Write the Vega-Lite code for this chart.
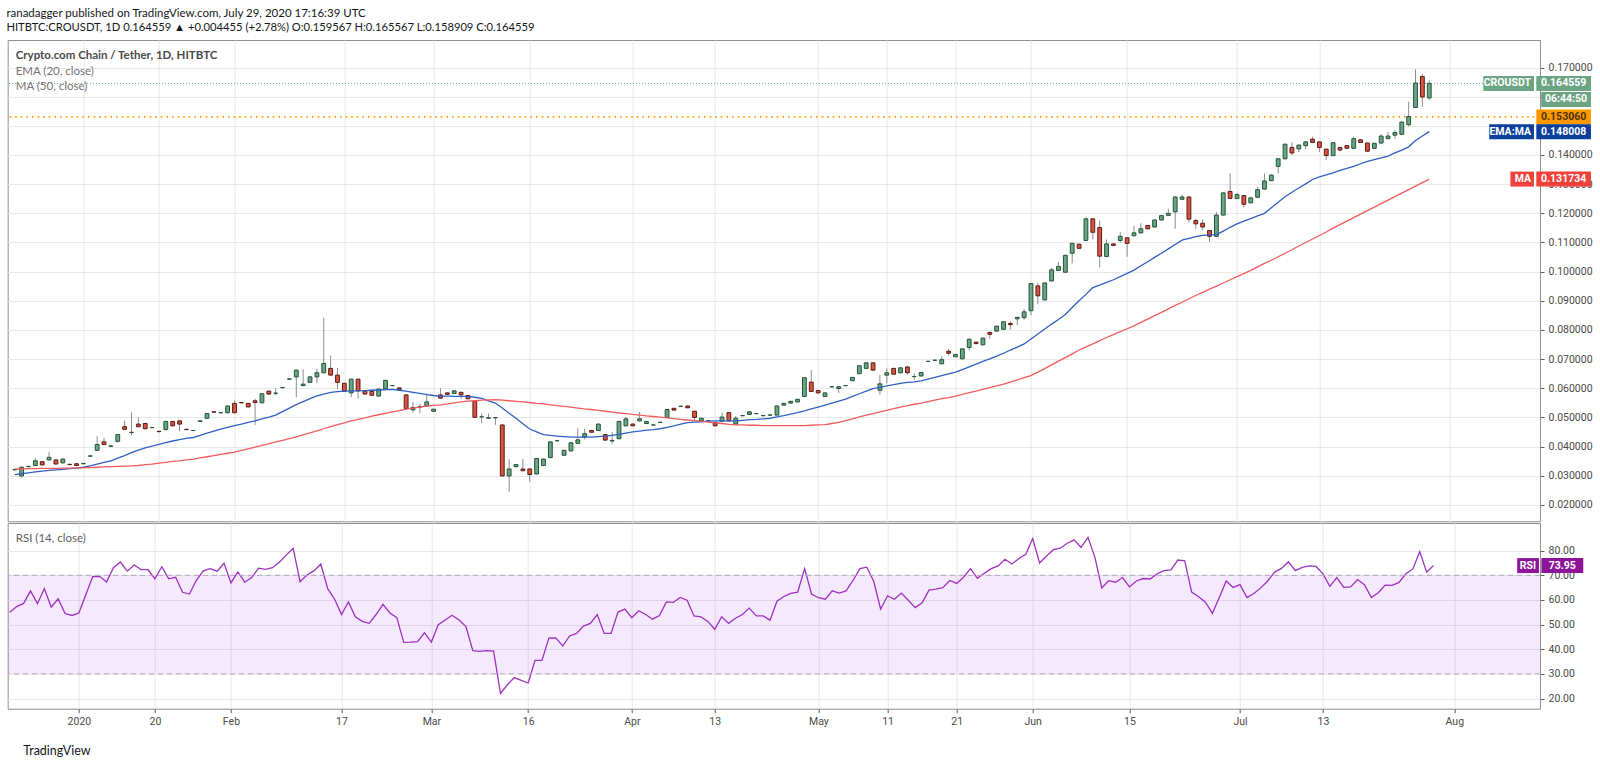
{
  "$schema": "https://vega.github.io/schema/vega-lite/v6.json",
  "padding": {"left": 5.7, "top": 7, "right": 0, "bottom": 0},
  "background": "white",
  "title": {
    "text": "ranadagger published on TradingView.com, July 29, 2020 17:16:39 UTC",
    "subtitle": "HITBTC:CROUSDT, 1D  0.164559 ▲ +0.004455 (+2.78%) O:0.159567 H:0.165567 L:0.158909 C:0.164559",
    "anchor": "start", "offset": 6,
    "font": "Lato", "fontSize": 11.5, "fontWeight": "normal", "color": "#131722",
    "subtitleFont": "Lato", "subtitleFontSize": 11.2, "subtitleColor": "#131722", "subtitlePadding": 3
  },
  "spacing": 0,
  "datasets": {
    "tags": [
      {"name": "CROUSDT", "value": 0.164559, "timer": "06:44:50"},
      {"name": "LEVEL", "value": 0.15306},
      {"name": "EMA:MA", "value": 0.148008},
      {"name": "MA", "value": 0.131734},
      {"name": "RSI", "value": 73.95}
    ],
    "bars": [
      {"i":0,"o":0.0320,"h":0.0323,"l":0.0318,"c":0.0321,"ema":0.0304,"ma":0.0323,"rsi":55.0},
      {"i":1,"o":0.0299,"h":0.0331,"l":0.0293,"c":0.0329,"ema":0.0307,"ma":0.0323,"rsi":57.3},
      {"i":2,"o":0.0331,"h":0.0334,"l":0.0329,"c":0.0332,"ema":0.0310,"ma":0.0324,"rsi":58.6},
      {"i":3,"o":0.0335,"h":0.0360,"l":0.0333,"c":0.0351,"ema":0.0313,"ma":0.0324,"rsi":63.7},
      {"i":4,"o":0.0348,"h":0.0350,"l":0.0334,"c":0.0337,"ema":0.0316,"ma":0.0325,"rsi":58.5},
      {"i":5,"o":0.0354,"h":0.0382,"l":0.0352,"c":0.0363,"ema":0.0318,"ma":0.0325,"rsi":64.6},
      {"i":6,"o":0.0354,"h":0.0357,"l":0.0338,"c":0.0340,"ema":0.0320,"ma":0.0325,"rsi":57.1},
      {"i":7,"o":0.0344,"h":0.0359,"l":0.0341,"c":0.0357,"ema":0.0322,"ma":0.0326,"rsi":60.5},
      {"i":8,"o":0.0339,"h":0.0341,"l":0.0336,"c":0.0338,"ema":0.0324,"ma":0.0326,"rsi":54.5},
      {"i":9,"o":0.0341,"h":0.0343,"l":0.0333,"c":0.0335,"ema":0.0326,"ma":0.0327,"rsi":53.7},
      {"i":10,"o":0.0341,"h":0.0344,"l":0.0339,"c":0.0342,"ema":0.0329,"ma":0.0327,"rsi":54.7},
      {"i":11,"o":0.0367,"h":0.0370,"l":0.0365,"c":0.0368,"ema":0.0334,"ma":0.0328,"rsi":62.1},
      {"i":12,"o":0.0387,"h":0.0435,"l":0.0385,"c":0.0407,"ema":0.0340,"ma":0.0329,"rsi":69.5},
      {"i":13,"o":0.0416,"h":0.0430,"l":0.0404,"c":0.0407,"ema":0.0346,"ma":0.0330,"rsi":69.6},
      {"i":14,"o":0.0401,"h":0.0404,"l":0.0399,"c":0.0402,"ema":0.0351,"ma":0.0331,"rsi":67.3},
      {"i":15,"o":0.0418,"h":0.0443,"l":0.0413,"c":0.0441,"ema":0.0360,"ma":0.0332,"rsi":73.1},
      {"i":16,"o":0.0468,"h":0.0489,"l":0.0457,"c":0.0459,"ema":0.0369,"ma":0.0333,"rsi":75.4},
      {"i":17,"o":0.0448,"h":0.0517,"l":0.0439,"c":0.0449,"ema":0.0379,"ma":0.0334,"rsi":71.7},
      {"i":18,"o":0.0477,"h":0.0500,"l":0.0466,"c":0.0468,"ema":0.0388,"ma":0.0335,"rsi":74.2},
      {"i":19,"o":0.0479,"h":0.0481,"l":0.0459,"c":0.0461,"ema":0.0395,"ma":0.0338,"rsi":72.3},
      {"i":20,"o":0.0465,"h":0.0467,"l":0.0463,"c":0.0465,"ema":0.0401,"ma":0.0340,"rsi":72.3},
      {"i":21,"o":0.0452,"h":0.0454,"l":0.0449,"c":0.0451,"ema":0.0407,"ma":0.0343,"rsi":68.6},
      {"i":22,"o":0.0458,"h":0.0488,"l":0.0456,"c":0.0486,"ema":0.0413,"ma":0.0346,"rsi":73.5},
      {"i":23,"o":0.0486,"h":0.0488,"l":0.0469,"c":0.0471,"ema":0.0419,"ma":0.0349,"rsi":68.6},
      {"i":24,"o":0.0488,"h":0.0490,"l":0.0452,"c":0.0477,"ema":0.0424,"ma":0.0351,"rsi":69.2},
      {"i":25,"o":0.0459,"h":0.0461,"l":0.0456,"c":0.0458,"ema":0.0428,"ma":0.0354,"rsi":63.1},
      {"i":26,"o":0.0455,"h":0.0457,"l":0.0453,"c":0.0455,"ema":0.0431,"ma":0.0357,"rsi":62.4},
      {"i":27,"o":0.0486,"h":0.0490,"l":0.0484,"c":0.0488,"ema":0.0438,"ma":0.0361,"rsi":68.0},
      {"i":28,"o":0.0497,"h":0.0515,"l":0.0495,"c":0.0513,"ema":0.0446,"ma":0.0365,"rsi":71.8},
      {"i":29,"o":0.0519,"h":0.0521,"l":0.0516,"c":0.0518,"ema":0.0453,"ma":0.0369,"rsi":72.7},
      {"i":30,"o":0.0516,"h":0.0518,"l":0.0514,"c":0.0516,"ema":0.0460,"ma":0.0373,"rsi":71.7},
      {"i":31,"o":0.0516,"h":0.0541,"l":0.0514,"c":0.0539,"ema":0.0466,"ma":0.0377,"rsi":74.9},
      {"i":32,"o":0.0548,"h":0.0558,"l":0.0514,"c":0.0516,"ema":0.0472,"ma":0.0381,"rsi":66.9},
      {"i":33,"o":0.0551,"h":0.0553,"l":0.0548,"c":0.0550,"ema":0.0477,"ma":0.0387,"rsi":71.4},
      {"i":34,"o":0.0548,"h":0.0550,"l":0.0534,"c":0.0536,"ema":0.0483,"ma":0.0392,"rsi":67.2},
      {"i":35,"o":0.0557,"h":0.0564,"l":0.0474,"c":0.0551,"ema":0.0488,"ma":0.0398,"rsi":69.1},
      {"i":36,"o":0.0550,"h":0.0583,"l":0.0548,"c":0.0581,"ema":0.0495,"ma":0.0404,"rsi":72.9},
      {"i":37,"o":0.0590,"h":0.0592,"l":0.0578,"c":0.0580,"ema":0.0501,"ma":0.0410,"rsi":72.4},
      {"i":38,"o":0.0583,"h":0.0600,"l":0.0575,"c":0.0583,"ema":0.0508,"ma":0.0416,"rsi":73.1},
      {"i":39,"o":0.0602,"h":0.0604,"l":0.0600,"c":0.0602,"ema":0.0520,"ma":0.0421,"rsi":75.3},
      {"i":40,"o":0.0631,"h":0.0634,"l":0.0629,"c":0.0632,"ema":0.0532,"ma":0.0427,"rsi":78.2},
      {"i":41,"o":0.0639,"h":0.0664,"l":0.0569,"c":0.0662,"ema":0.0544,"ma":0.0433,"rsi":81.0},
      {"i":42,"o":0.0609,"h":0.0665,"l":0.0607,"c":0.0614,"ema":0.0554,"ma":0.0440,"rsi":67.4},
      {"i":43,"o":0.0620,"h":0.0641,"l":0.0618,"c":0.0639,"ema":0.0564,"ma":0.0447,"rsi":70.1},
      {"i":44,"o":0.0639,"h":0.0667,"l":0.0617,"c":0.0653,"ema":0.0574,"ma":0.0454,"rsi":71.8},
      {"i":45,"o":0.0653,"h":0.0842,"l":0.0651,"c":0.0685,"ema":0.0580,"ma":0.0461,"rsi":74.6},
      {"i":46,"o":0.0668,"h":0.0712,"l":0.0643,"c":0.0645,"ema":0.0586,"ma":0.0468,"rsi":64.6},
      {"i":47,"o":0.0645,"h":0.0670,"l":0.0598,"c":0.0620,"ema":0.0588,"ma":0.0475,"rsi":60.3},
      {"i":48,"o":0.0617,"h":0.0619,"l":0.0588,"c":0.0590,"ema":0.0590,"ma":0.0481,"rsi":54.1},
      {"i":49,"o":0.0584,"h":0.0633,"l":0.0570,"c":0.0631,"ema":0.0591,"ma":0.0488,"rsi":59.2},
      {"i":50,"o":0.0631,"h":0.0633,"l":0.0565,"c":0.0591,"ema":0.0591,"ma":0.0493,"rsi":53.2},
      {"i":51,"o":0.0590,"h":0.0592,"l":0.0578,"c":0.0580,"ema":0.0592,"ma":0.0498,"rsi":51.3},
      {"i":52,"o":0.0589,"h":0.0591,"l":0.0574,"c":0.0576,"ema":0.0593,"ma":0.0504,"rsi":50.5},
      {"i":53,"o":0.0573,"h":0.0599,"l":0.0571,"c":0.0597,"ema":0.0594,"ma":0.0509,"rsi":54.1},
      {"i":54,"o":0.0597,"h":0.0629,"l":0.0595,"c":0.0627,"ema":0.0595,"ma":0.0514,"rsi":58.2},
      {"i":55,"o":0.0609,"h":0.0611,"l":0.0607,"c":0.0609,"ema":0.0596,"ma":0.0519,"rsi":54.7},
      {"i":56,"o":0.0601,"h":0.0603,"l":0.0594,"c":0.0596,"ema":0.0593,"ma":0.0523,"rsi":52.8},
      {"i":57,"o":0.0577,"h":0.0579,"l":0.0528,"c":0.0530,"ema":0.0590,"ma":0.0528,"rsi":42.8},
      {"i":58,"o":0.0526,"h":0.0553,"l":0.0517,"c":0.0534,"ema":0.0586,"ma":0.0532,"rsi":42.9},
      {"i":59,"o":0.0536,"h":0.0547,"l":0.0514,"c":0.0536,"ema":0.0582,"ma":0.0535,"rsi":43.1},
      {"i":60,"o":0.0539,"h":0.0581,"l":0.0537,"c":0.0553,"ema":0.0578,"ma":0.0539,"rsi":46.7},
      {"i":61,"o":0.0521,"h":0.0530,"l":0.0519,"c":0.0528,"ema":0.0575,"ma":0.0541,"rsi":42.9},
      {"i":62,"o":0.0577,"h":0.0600,"l":0.0564,"c":0.0566,"ema":0.0573,"ma":0.0543,"rsi":50.0},
      {"i":63,"o":0.0584,"h":0.0586,"l":0.0577,"c":0.0579,"ema":0.0573,"ma":0.0546,"rsi":51.9},
      {"i":64,"o":0.0582,"h":0.0593,"l":0.0580,"c":0.0591,"ema":0.0572,"ma":0.0550,"rsi":53.8},
      {"i":65,"o":0.0586,"h":0.0588,"l":0.0564,"c":0.0577,"ema":0.0572,"ma":0.0553,"rsi":51.9},
      {"i":66,"o":0.0575,"h":0.0577,"l":0.0562,"c":0.0564,"ema":0.0572,"ma":0.0556,"rsi":49.2},
      {"i":67,"o":0.0556,"h":0.0558,"l":0.0498,"c":0.0500,"ema":0.0569,"ma":0.0557,"rsi":39.4},
      {"i":68,"o":0.0502,"h":0.0513,"l":0.0480,"c":0.0502,"ema":0.0565,"ma":0.0559,"rsi":39.1},
      {"i":69,"o":0.0497,"h":0.0513,"l":0.0495,"c":0.0499,"ema":0.0557,"ma":0.0560,"rsi":39.4},
      {"i":70,"o":0.0499,"h":0.0501,"l":0.0474,"c":0.0499,"ema":0.0549,"ma":0.0561,"rsi":39.2},
      {"i":71,"o":0.0474,"h":0.0476,"l":0.0297,"c":0.0299,"ema":0.0532,"ma":0.0559,"rsi":22.1},
      {"i":72,"o":0.0299,"h":0.0357,"l":0.0245,"c":0.0323,"ema":0.0514,"ma":0.0557,"rsi":25.6},
      {"i":73,"o":0.0331,"h":0.0340,"l":0.0329,"c":0.0338,"ema":0.0497,"ma":0.0555,"rsi":28.5},
      {"i":74,"o":0.0323,"h":0.0357,"l":0.0315,"c":0.0317,"ema":0.0478,"ma":0.0553,"rsi":27.4},
      {"i":75,"o":0.0323,"h":0.0325,"l":0.0279,"c":0.0304,"ema":0.0460,"ma":0.0551,"rsi":26.3},
      {"i":76,"o":0.0306,"h":0.0361,"l":0.0304,"c":0.0359,"ema":0.0450,"ma":0.0548,"rsi":35.5},
      {"i":77,"o":0.0335,"h":0.0359,"l":0.0333,"c":0.0357,"ema":0.0441,"ma":0.0546,"rsi":35.5},
      {"i":78,"o":0.0362,"h":0.0418,"l":0.0360,"c":0.0416,"ema":0.0438,"ma":0.0543,"rsi":44.5},
      {"i":79,"o":0.0420,"h":0.0422,"l":0.0418,"c":0.0420,"ema":0.0436,"ma":0.0540,"rsi":44.6},
      {"i":80,"o":0.0370,"h":0.0389,"l":0.0368,"c":0.0387,"ema":0.0434,"ma":0.0538,"rsi":41.3},
      {"i":81,"o":0.0385,"h":0.0415,"l":0.0383,"c":0.0413,"ema":0.0432,"ma":0.0535,"rsi":45.4},
      {"i":82,"o":0.0411,"h":0.0463,"l":0.0409,"c":0.0423,"ema":0.0432,"ma":0.0532,"rsi":46.4},
      {"i":83,"o":0.0433,"h":0.0461,"l":0.0424,"c":0.0444,"ema":0.0432,"ma":0.0529,"rsi":49.4},
      {"i":84,"o":0.0455,"h":0.0457,"l":0.0447,"c":0.0449,"ema":0.0432,"ma":0.0527,"rsi":50.5},
      {"i":85,"o":0.0455,"h":0.0479,"l":0.0453,"c":0.0477,"ema":0.0434,"ma":0.0524,"rsi":54.1},
      {"i":86,"o":0.0441,"h":0.0443,"l":0.0420,"c":0.0422,"ema":0.0436,"ma":0.0521,"rsi":46.4},
      {"i":87,"o":0.0419,"h":0.0449,"l":0.0410,"c":0.0421,"ema":0.0438,"ma":0.0518,"rsi":46.4},
      {"i":88,"o":0.0427,"h":0.0488,"l":0.0425,"c":0.0486,"ema":0.0442,"ma":0.0515,"rsi":55.1},
      {"i":89,"o":0.0471,"h":0.0501,"l":0.0469,"c":0.0495,"ema":0.0446,"ma":0.0513,"rsi":56.3},
      {"i":90,"o":0.0477,"h":0.0479,"l":0.0469,"c":0.0471,"ema":0.0450,"ma":0.0510,"rsi":52.8},
      {"i":91,"o":0.0488,"h":0.0519,"l":0.0486,"c":0.0495,"ema":0.0453,"ma":0.0508,"rsi":55.6},
      {"i":92,"o":0.0479,"h":0.0488,"l":0.0477,"c":0.0486,"ema":0.0456,"ma":0.0505,"rsi":54.1},
      {"i":93,"o":0.0474,"h":0.0476,"l":0.0472,"c":0.0474,"ema":0.0458,"ma":0.0503,"rsi":52.2},
      {"i":94,"o":0.0483,"h":0.0485,"l":0.0481,"c":0.0483,"ema":0.0461,"ma":0.0501,"rsi":53.7},
      {"i":95,"o":0.0500,"h":0.0529,"l":0.0498,"c":0.0527,"ema":0.0466,"ma":0.0498,"rsi":59.2},
      {"i":96,"o":0.0531,"h":0.0533,"l":0.0523,"c":0.0525,"ema":0.0471,"ma":0.0496,"rsi":59.0},
      {"i":97,"o":0.0538,"h":0.0540,"l":0.0536,"c":0.0538,"ema":0.0477,"ma":0.0493,"rsi":61.0},
      {"i":98,"o":0.0539,"h":0.0541,"l":0.0531,"c":0.0533,"ema":0.0482,"ma":0.0491,"rsi":59.9},
      {"i":99,"o":0.0521,"h":0.0523,"l":0.0486,"c":0.0500,"ema":0.0484,"ma":0.0489,"rsi":53.5},
      {"i":100,"o":0.0488,"h":0.0499,"l":0.0486,"c":0.0497,"ema":0.0485,"ma":0.0486,"rsi":53.1},
      {"i":101,"o":0.0488,"h":0.0490,"l":0.0486,"c":0.0488,"ema":0.0487,"ma":0.0484,"rsi":51.3},
      {"i":102,"o":0.0482,"h":0.0484,"l":0.0469,"c":0.0471,"ema":0.0488,"ma":0.0481,"rsi":48.1},
      {"i":103,"o":0.0487,"h":0.0517,"l":0.0485,"c":0.0501,"ema":0.0488,"ma":0.0479,"rsi":53.2},
      {"i":104,"o":0.0516,"h":0.0518,"l":0.0486,"c":0.0488,"ema":0.0488,"ma":0.0476,"rsi":50.5},
      {"i":105,"o":0.0477,"h":0.0505,"l":0.0475,"c":0.0497,"ema":0.0488,"ma":0.0474,"rsi":52.6},
      {"i":106,"o":0.0506,"h":0.0508,"l":0.0504,"c":0.0506,"ema":0.0490,"ma":0.0474,"rsi":54.1},
      {"i":107,"o":0.0510,"h":0.0521,"l":0.0508,"c":0.0519,"ema":0.0492,"ma":0.0473,"rsi":56.7},
      {"i":108,"o":0.0513,"h":0.0515,"l":0.0511,"c":0.0513,"ema":0.0493,"ma":0.0473,"rsi":53.5},
      {"i":109,"o":0.0506,"h":0.0508,"l":0.0504,"c":0.0506,"ema":0.0495,"ma":0.0472,"rsi":53.5},
      {"i":110,"o":0.0508,"h":0.0510,"l":0.0506,"c":0.0508,"ema":0.0497,"ma":0.0472,"rsi":51.8},
      {"i":111,"o":0.0508,"h":0.0541,"l":0.0506,"c":0.0539,"ema":0.0502,"ma":0.0472,"rsi":59.5},
      {"i":112,"o":0.0542,"h":0.0550,"l":0.0540,"c":0.0548,"ema":0.0506,"ma":0.0472,"rsi":61.4},
      {"i":113,"o":0.0549,"h":0.0557,"l":0.0547,"c":0.0555,"ema":0.0511,"ma":0.0472,"rsi":62.7},
      {"i":114,"o":0.0553,"h":0.0564,"l":0.0551,"c":0.0562,"ema":0.0516,"ma":0.0472,"rsi":63.2},
      {"i":115,"o":0.0572,"h":0.0638,"l":0.0570,"c":0.0636,"ema":0.0522,"ma":0.0472,"rsi":72.7},
      {"i":116,"o":0.0621,"h":0.0662,"l":0.0587,"c":0.0589,"ema":0.0529,"ma":0.0473,"rsi":62.4},
      {"i":117,"o":0.0592,"h":0.0594,"l":0.0582,"c":0.0584,"ema":0.0535,"ma":0.0474,"rsi":60.9},
      {"i":118,"o":0.0572,"h":0.0586,"l":0.0570,"c":0.0584,"ema":0.0542,"ma":0.0475,"rsi":60.3},
      {"i":119,"o":0.0605,"h":0.0607,"l":0.0603,"c":0.0605,"ema":0.0549,"ma":0.0479,"rsi":63.7},
      {"i":120,"o":0.0599,"h":0.0607,"l":0.0584,"c":0.0605,"ema":0.0556,"ma":0.0483,"rsi":62.8},
      {"i":121,"o":0.0609,"h":0.0611,"l":0.0607,"c":0.0609,"ema":0.0563,"ma":0.0489,"rsi":63.7},
      {"i":122,"o":0.0626,"h":0.0639,"l":0.0624,"c":0.0637,"ema":0.0572,"ma":0.0495,"rsi":67.9},
      {"i":123,"o":0.0650,"h":0.0679,"l":0.0648,"c":0.0677,"ema":0.0581,"ma":0.0502,"rsi":72.7},
      {"i":124,"o":0.0668,"h":0.0689,"l":0.0666,"c":0.0687,"ema":0.0590,"ma":0.0508,"rsi":73.3},
      {"i":125,"o":0.0687,"h":0.0689,"l":0.0660,"c":0.0662,"ema":0.0599,"ma":0.0513,"rsi":67.6},
      {"i":126,"o":0.0593,"h":0.0645,"l":0.0578,"c":0.0615,"ema":0.0603,"ma":0.0519,"rsi":56.3},
      {"i":127,"o":0.0645,"h":0.0668,"l":0.0617,"c":0.0653,"ema":0.0608,"ma":0.0524,"rsi":61.7},
      {"i":128,"o":0.0668,"h":0.0670,"l":0.0646,"c":0.0648,"ema":0.0612,"ma":0.0530,"rsi":60.3},
      {"i":129,"o":0.0653,"h":0.0672,"l":0.0651,"c":0.0670,"ema":0.0617,"ma":0.0535,"rsi":62.8},
      {"i":130,"o":0.0673,"h":0.0675,"l":0.0646,"c":0.0653,"ema":0.0620,"ma":0.0540,"rsi":59.9},
      {"i":131,"o":0.0640,"h":0.0651,"l":0.0629,"c":0.0640,"ema":0.0622,"ma":0.0545,"rsi":56.9},
      {"i":132,"o":0.0642,"h":0.0656,"l":0.0640,"c":0.0654,"ema":0.0625,"ma":0.0549,"rsi":58.8},
      {"i":133,"o":0.0692,"h":0.0694,"l":0.0690,"c":0.0692,"ema":0.0631,"ma":0.0554,"rsi":64.0},
      {"i":134,"o":0.0696,"h":0.0698,"l":0.0694,"c":0.0696,"ema":0.0637,"ma":0.0559,"rsi":64.4},
      {"i":135,"o":0.0684,"h":0.0710,"l":0.0682,"c":0.0698,"ema":0.0643,"ma":0.0564,"rsi":65.0},
      {"i":136,"o":0.0727,"h":0.0735,"l":0.0712,"c":0.0720,"ema":0.0649,"ma":0.0568,"rsi":67.9},
      {"i":137,"o":0.0708,"h":0.0718,"l":0.0706,"c":0.0716,"ema":0.0655,"ma":0.0573,"rsi":66.7},
      {"i":138,"o":0.0701,"h":0.0737,"l":0.0699,"c":0.0735,"ema":0.0664,"ma":0.0579,"rsi":69.2},
      {"i":139,"o":0.0740,"h":0.0770,"l":0.0729,"c":0.0768,"ema":0.0673,"ma":0.0585,"rsi":72.7},
      {"i":140,"o":0.0758,"h":0.0760,"l":0.0751,"c":0.0753,"ema":0.0683,"ma":0.0590,"rsi":68.8},
      {"i":141,"o":0.0749,"h":0.0774,"l":0.0747,"c":0.0772,"ema":0.0692,"ma":0.0596,"rsi":70.8},
      {"i":142,"o":0.0791,"h":0.0796,"l":0.0770,"c":0.0785,"ema":0.0701,"ma":0.0602,"rsi":72.7},
      {"i":143,"o":0.0796,"h":0.0815,"l":0.0794,"c":0.0813,"ema":0.0710,"ma":0.0608,"rsi":73.8},
      {"i":144,"o":0.0802,"h":0.0830,"l":0.0800,"c":0.0828,"ema":0.0720,"ma":0.0614,"rsi":76.5},
      {"i":145,"o":0.0822,"h":0.0830,"l":0.0802,"c":0.0818,"ema":0.0731,"ma":0.0621,"rsi":74.6},
      {"i":146,"o":0.0838,"h":0.0845,"l":0.0816,"c":0.0843,"ema":0.0741,"ma":0.0629,"rsi":76.8},
      {"i":147,"o":0.0842,"h":0.0871,"l":0.0835,"c":0.0862,"ema":0.0752,"ma":0.0636,"rsi":78.5},
      {"i":148,"o":0.0866,"h":0.0961,"l":0.0850,"c":0.0959,"ema":0.0769,"ma":0.0643,"rsi":84.9},
      {"i":149,"o":0.0951,"h":0.0962,"l":0.0888,"c":0.0917,"ema":0.0786,"ma":0.0655,"rsi":75.0},
      {"i":150,"o":0.0903,"h":0.0963,"l":0.0901,"c":0.0961,"ema":0.0803,"ma":0.0667,"rsi":77.8},
      {"i":151,"o":0.0968,"h":0.1013,"l":0.0966,"c":0.1006,"ema":0.0820,"ma":0.0680,"rsi":80.4},
      {"i":152,"o":0.1004,"h":0.1033,"l":0.1002,"c":0.1018,"ema":0.0836,"ma":0.0693,"rsi":81.0},
      {"i":153,"o":0.0998,"h":0.1058,"l":0.0996,"c":0.1056,"ema":0.0853,"ma":0.0705,"rsi":83.0},
      {"i":154,"o":0.1063,"h":0.1099,"l":0.1028,"c":0.1097,"ema":0.0877,"ma":0.0718,"rsi":84.4},
      {"i":155,"o":0.1094,"h":0.1096,"l":0.1078,"c":0.1080,"ema":0.0900,"ma":0.0731,"rsi":81.3},
      {"i":156,"o":0.1107,"h":0.1186,"l":0.1105,"c":0.1181,"ema":0.0922,"ma":0.0742,"rsi":85.4},
      {"i":157,"o":0.1181,"h":0.1183,"l":0.1110,"c":0.1135,"ema":0.0945,"ma":0.0752,"rsi":77.3},
      {"i":158,"o":0.1151,"h":0.1175,"l":0.1015,"c":0.1053,"ema":0.0954,"ma":0.0763,"rsi":64.9},
      {"i":159,"o":0.1052,"h":0.1110,"l":0.1050,"c":0.1095,"ema":0.0963,"ma":0.0774,"rsi":67.8},
      {"i":160,"o":0.1095,"h":0.1097,"l":0.1088,"c":0.1090,"ema":0.0972,"ma":0.0784,"rsi":67.2},
      {"i":161,"o":0.1107,"h":0.1136,"l":0.1099,"c":0.1121,"ema":0.0983,"ma":0.0794,"rsi":69.1},
      {"i":162,"o":0.1116,"h":0.1118,"l":0.1051,"c":0.1097,"ema":0.0994,"ma":0.0804,"rsi":65.3},
      {"i":163,"o":0.1123,"h":0.1158,"l":0.1121,"c":0.1133,"ema":0.1005,"ma":0.0814,"rsi":67.7},
      {"i":164,"o":0.1133,"h":0.1166,"l":0.1131,"c":0.1147,"ema":0.1020,"ma":0.0826,"rsi":68.7},
      {"i":165,"o":0.1158,"h":0.1160,"l":0.1145,"c":0.1147,"ema":0.1034,"ma":0.0837,"rsi":68.5},
      {"i":166,"o":0.1153,"h":0.1179,"l":0.1151,"c":0.1177,"ema":0.1049,"ma":0.0849,"rsi":70.6},
      {"i":167,"o":0.1177,"h":0.1194,"l":0.1175,"c":0.1192,"ema":0.1063,"ma":0.0860,"rsi":71.9},
      {"i":168,"o":0.1193,"h":0.1216,"l":0.1191,"c":0.1200,"ema":0.1078,"ma":0.0872,"rsi":72.2},
      {"i":169,"o":0.1205,"h":0.1258,"l":0.1147,"c":0.1256,"ema":0.1093,"ma":0.0884,"rsi":76.2},
      {"i":170,"o":0.1248,"h":0.1264,"l":0.1246,"c":0.1256,"ema":0.1108,"ma":0.0895,"rsi":75.9},
      {"i":171,"o":0.1256,"h":0.1258,"l":0.1170,"c":0.1180,"ema":0.1114,"ma":0.0907,"rsi":63.2},
      {"i":172,"o":0.1175,"h":0.1181,"l":0.1147,"c":0.1164,"ema":0.1120,"ma":0.0918,"rsi":61.3},
      {"i":173,"o":0.1166,"h":0.1180,"l":0.1141,"c":0.1153,"ema":0.1124,"ma":0.0929,"rsi":59.1},
      {"i":174,"o":0.1141,"h":0.1143,"l":0.1102,"c":0.1121,"ema":0.1126,"ma":0.0940,"rsi":54.6},
      {"i":175,"o":0.1121,"h":0.1205,"l":0.1119,"c":0.1194,"ema":0.1127,"ma":0.0950,"rsi":61.0},
      {"i":176,"o":0.1194,"h":0.1272,"l":0.1192,"c":0.1270,"ema":0.1139,"ma":0.0961,"rsi":67.7},
      {"i":177,"o":0.1275,"h":0.1337,"l":0.1249,"c":0.1251,"ema":0.1152,"ma":0.0972,"rsi":65.1},
      {"i":178,"o":0.1251,"h":0.1270,"l":0.1249,"c":0.1264,"ema":0.1164,"ma":0.0983,"rsi":66.2},
      {"i":179,"o":0.1261,"h":0.1263,"l":0.1220,"c":0.1231,"ema":0.1173,"ma":0.0993,"rsi":61.0},
      {"i":180,"o":0.1236,"h":0.1255,"l":0.1234,"c":0.1253,"ema":0.1182,"ma":0.1004,"rsi":62.6},
      {"i":181,"o":0.1255,"h":0.1290,"l":0.1253,"c":0.1281,"ema":0.1191,"ma":0.1016,"rsi":64.9},
      {"i":182,"o":0.1283,"h":0.1337,"l":0.1281,"c":0.1311,"ema":0.1200,"ma":0.1028,"rsi":67.7},
      {"i":183,"o":0.1312,"h":0.1333,"l":0.1310,"c":0.1331,"ema":0.1219,"ma":0.1039,"rsi":71.3},
      {"i":184,"o":0.1361,"h":0.1389,"l":0.1337,"c":0.1387,"ema":0.1238,"ma":0.1051,"rsi":72.8},
      {"i":185,"o":0.1387,"h":0.1439,"l":0.1385,"c":0.1437,"ema":0.1257,"ma":0.1063,"rsi":75.5},
      {"i":186,"o":0.1426,"h":0.1443,"l":0.1400,"c":0.1407,"ema":0.1272,"ma":0.1075,"rsi":71.9},
      {"i":187,"o":0.1421,"h":0.1436,"l":0.1410,"c":0.1434,"ema":0.1287,"ma":0.1088,"rsi":73.2},
      {"i":188,"o":0.1432,"h":0.1447,"l":0.1420,"c":0.1445,"ema":0.1301,"ma":0.1100,"rsi":73.8},
      {"i":189,"o":0.1454,"h":0.1463,"l":0.1441,"c":0.1443,"ema":0.1316,"ma":0.1112,"rsi":73.6},
      {"i":190,"o":0.1445,"h":0.1447,"l":0.1410,"c":0.1426,"ema":0.1325,"ma":0.1124,"rsi":70.6},
      {"i":191,"o":0.1420,"h":0.1422,"l":0.1382,"c":0.1398,"ema":0.1332,"ma":0.1136,"rsi":65.5},
      {"i":192,"o":0.1398,"h":0.1444,"l":0.1396,"c":0.1442,"ema":0.1339,"ma":0.1149,"rsi":69.1},
      {"i":193,"o":0.1426,"h":0.1428,"l":0.1412,"c":0.1417,"ema":0.1347,"ma":0.1161,"rsi":65.1},
      {"i":194,"o":0.1432,"h":0.1434,"l":0.1421,"c":0.1423,"ema":0.1354,"ma":0.1173,"rsi":65.3},
      {"i":195,"o":0.1423,"h":0.1463,"l":0.1421,"c":0.1456,"ema":0.1361,"ma":0.1185,"rsi":68.3},
      {"i":196,"o":0.1452,"h":0.1454,"l":0.1441,"c":0.1443,"ema":0.1370,"ma":0.1197,"rsi":66.2},
      {"i":197,"o":0.1441,"h":0.1443,"l":0.1411,"c":0.1413,"ema":0.1378,"ma":0.1209,"rsi":61.0},
      {"i":198,"o":0.1423,"h":0.1442,"l":0.1421,"c":0.1440,"ema":0.1384,"ma":0.1221,"rsi":62.9},
      {"i":199,"o":0.1441,"h":0.1471,"l":0.1439,"c":0.1465,"ema":0.1390,"ma":0.1233,"rsi":66.0},
      {"i":200,"o":0.1456,"h":0.1479,"l":0.1454,"c":0.1465,"ema":0.1396,"ma":0.1245,"rsi":65.9},
      {"i":201,"o":0.1468,"h":0.1485,"l":0.1455,"c":0.1477,"ema":0.1407,"ma":0.1257,"rsi":67.1},
      {"i":202,"o":0.1471,"h":0.1515,"l":0.1469,"c":0.1513,"ema":0.1417,"ma":0.1269,"rsi":70.6},
      {"i":203,"o":0.1504,"h":0.1583,"l":0.1498,"c":0.1532,"ema":0.1428,"ma":0.1281,"rsi":72.6},
      {"i":204,"o":0.1563,"h":0.1694,"l":0.1561,"c":0.1647,"ema":0.1450,"ma":0.1293,"rsi":79.6},
      {"i":205,"o":0.1669,"h":0.1678,"l":0.1566,"c":0.1599,"ema":0.1465,"ma":0.1305,"rsi":71.3},
      {"i":206,"o":0.159567,"h":0.165567,"l":0.158909,"c":0.164559,"ema":0.148008,"ma":0.131734,"rsi":73.95}
    ]
  },
  "vconcat": [
    {
      "width": 1532.3,
      "height": 481.3,
      "data": {"name": "bars"},
      "title": {
        "text": "Crypto.com Chain / Tether, 1D, HITBTC",
        "subtitle": ["EMA (20, close)", "MA (50, close)"],
        "anchor": "start", "frame": "group", "offset": -52, "dx": 8,
        "font": "Lato", "fontSize": 11.5, "fontWeight": "bold", "color": "#4a4a4a",
        "subtitleFont": "Lato", "subtitleFontSize": 11.5, "subtitleColor": "#757575",
        "subtitlePadding": 4, "subtitleLineHeight": 15
      },
      "layer": [
        {
          "mark": {"type": "rule", "color": "#8c8c8c", "strokeWidth": 1},
          "encoding": {
            "x": {
              "field": "i", "type": "quantitative",
              "scale": {"domain": [-0.3, 221.4], "nice": false, "zero": false},
              "axis": {
                "values": [10, 21, 32, 48, 61, 75, 90, 102, 117, 127, 137, 148, 162, 178, 190, 209],
                "labels": false, "ticks": false, "domain": false, "title": null, "grid": true
              }
            },
            "y": {
              "field": "l", "type": "quantitative",
              "scale": {"domain": [0.01607, 0.17773], "nice": false, "zero": false},
              "axis": {
                "orient": "right", "title": null, "format": ".6f", "grid": true,
                "labelOverlap": false, "tickCount": 16,
                "values": [0.02, 0.03, 0.04, 0.05, 0.06, 0.07, 0.08, 0.09, 0.1, 0.11, 0.12, 0.13, 0.14, 0.15, 0.16, 0.17],
                "labelExpr": "abs(datum.value - 0.15) < 0.001 || abs(datum.value - 0.16) < 0.001 ? '' : datum.label"
              }
            },
            "y2": {"field": "h"}
          }
        },
        {
          "data": {"name": "tags"},
          "transform": [{"filter": "datum.name === 'LEVEL'"}],
          "mark": {"type": "rule", "color": "#ff9800", "strokeWidth": 1.6, "strokeDash": [1.6, 4]},
          "encoding": {"y": {"field": "value", "type": "quantitative"}}
        },
        {
          "data": {"name": "tags"},
          "transform": [{"filter": "datum.name === 'CROUSDT'"}],
          "mark": {"type": "rule", "color": "#6ba583", "strokeWidth": 1, "strokeDash": [1, 2]},
          "encoding": {"y": {"field": "value", "type": "quantitative"}}
        },
        {
          "transform": [{"filter": "datum.c >= datum.o"}],
          "mark": {"type": "bar", "width": 3.8, "fill": "#6ba583", "stroke": "#225437", "strokeWidth": 1},
          "encoding": {
            "x": {"field": "i", "type": "quantitative"},
            "y": {"field": "o", "type": "quantitative"},
            "y2": {"field": "c"}
          }
        },
        {
          "transform": [{"filter": "datum.c < datum.o"}],
          "mark": {"type": "bar", "width": 3.8, "fill": "#d75442", "stroke": "#5b1a13", "strokeWidth": 1},
          "encoding": {
            "x": {"field": "i", "type": "quantitative"},
            "y": {"field": "o", "type": "quantitative"},
            "y2": {"field": "c"}
          }
        },
        {
          "mark": {"type": "line", "color": "#2f5fc4", "strokeWidth": 1.3},
          "encoding": {
            "x": {"field": "i", "type": "quantitative"},
            "y": {"field": "ema", "type": "quantitative"}
          }
        },
        {
          "mark": {"type": "line", "color": "#f45b5b", "strokeWidth": 1.3},
          "encoding": {
            "x": {"field": "i", "type": "quantitative"},
            "y": {"field": "ma", "type": "quantitative"}
          }
        },
        {
          "data": {"name": "tags"},
          "transform": [{"filter": "datum.name === 'CROUSDT'"}],
          "mark": {"type": "bar", "height": 15, "color": "#6ba583"},
          "encoding": {
            "x": {"datum": 213.87}, "x2": {"datum": 221.25},
            "y": {"field": "value", "type": "quantitative"}
          }
        },
        {
          "data": {"name": "tags"},
          "transform": [{"filter": "datum.name === 'EMA:MA'"}],
          "mark": {"type": "bar", "height": 15, "color": "#0d3f9e"},
          "encoding": {
            "x": {"datum": 214.74}, "x2": {"datum": 221.25},
            "y": {"field": "value", "type": "quantitative"}
          }
        },
        {
          "data": {"name": "tags"},
          "transform": [{"filter": "datum.name === 'MA'"}],
          "mark": {"type": "bar", "height": 15, "color": "#f2403a"},
          "encoding": {
            "x": {"datum": 217.82}, "x2": {"datum": 221.25},
            "y": {"field": "value", "type": "quantitative"}
          }
        },
        {
          "data": {"name": "tags"},
          "transform": [{"filter": "indexof(['CROUSDT', 'EMA:MA', 'MA'], datum.name) >= 0"}],
          "mark": {"type": "text", "align": "right", "baseline": "middle", "dx": -3, "color": "white", "fontSize": 10.5, "fontWeight": "bold", "font": "Roboto"},
          "encoding": {
            "x": {"datum": 221.25},
            "y": {"field": "value", "type": "quantitative"},
            "text": {"field": "name"}
          }
        },
        {
          "data": {"name": "tags"},
          "transform": [{"filter": "datum.name !== 'RSI'"}],
          "mark": {"type": "bar", "height": 15},
          "encoding": {
            "x": {"datum": 221.59}, "x2": {"datum": 229.55},
            "y": {"field": "value", "type": "quantitative"},
            "color": {
              "field": "name", "type": "nominal", "legend": null,
              "scale": {"domain": ["CROUSDT", "LEVEL", "EMA:MA", "MA"], "range": ["#6ba583", "#ff9800", "#0d3f9e", "#f2403a"]}
            }
          }
        },
        {
          "data": {"name": "tags"},
          "transform": [{"filter": "datum.name === 'CROUSDT'"}],
          "mark": {"type": "bar", "height": 15, "yOffset": 16, "color": "#6ba583"},
          "encoding": {
            "x": {"datum": 222.3}, "x2": {"datum": 229.55},
            "y": {"field": "value", "type": "quantitative"}
          }
        },
        {
          "data": {"name": "tags"},
          "transform": [{"filter": "datum.name !== 'RSI'"}],
          "mark": {"type": "text", "align": "center", "baseline": "middle", "fontSize": 10.5, "fontWeight": "bold", "font": "Roboto"},
          "encoding": {
            "x": {"datum": 225.57},
            "y": {"field": "value", "type": "quantitative"},
            "text": {"field": "value", "format": ".6f"},
            "color": {"condition": {"test": "datum.name === 'LEVEL'", "value": "#4a3300"}, "value": "white"}
          }
        },
        {
          "data": {"name": "tags"},
          "transform": [{"filter": "datum.name === 'CROUSDT'"}],
          "mark": {"type": "text", "align": "center", "baseline": "middle", "dy": 16, "color": "white", "fontSize": 10.5, "fontWeight": "bold", "font": "Roboto"},
          "encoding": {
            "x": {"datum": 225.92},
            "y": {"field": "value", "type": "quantitative"},
            "text": {"field": "timer"}
          }
        }
      ]
    },
    {
      "width": 1532.3,
      "height": 185.7,
      "data": {"name": "bars"},
      "title": {
        "text": "RSI (14, close)",
        "anchor": "start", "frame": "group", "offset": -21, "dx": 8,
        "font": "Lato", "fontSize": 11.5, "fontWeight": "normal", "color": "#606060"
      },
      "layer": [
        {
          "mark": {"type": "line", "color": "#a032c0", "strokeWidth": 1.3},
          "encoding": {
            "x": {
              "field": "i", "type": "quantitative",
              "scale": {"domain": [-0.3, 221.4], "nice": false, "zero": false},
              "axis": {
                "values": [10, 21, 32, 48, 61, 75, 90, 102, 117, 127, 137, 148, 162, 178, 190, 209],
                "labelExpr": "['2020','20','Feb','17','Mar','16','Apr','13','May','11','21','Jun','15','Jul','13','Aug'][indexof([10,21,32,48,61,75,90,102,117,127,137,148,162,178,190,209], datum.value)]",
                "grid": true, "ticks": true, "labelFlush": false, "labelOverlap": false,
                "title": "TradingView", "titleX": 15, "titleAlign": "left", "titlePadding": 17,
                "titleFont": "Lato", "titleFontSize": 12.5, "titleFontWeight": "normal", "titleColor": "#131722"
              }
            },
            "y": {
              "field": "rsi", "type": "quantitative",
              "scale": {"domain": [17.9, 89.2], "nice": false, "zero": false},
              "axis": {
                "orient": "right", "title": null, "format": ".2f", "grid": true,
                "labelOverlap": false, "tickCount": 7,
                "values": [20, 30, 40, 50, 60, 70, 80]
              }
            }
          }
        },
        {
          "data": {"name": "tags"},
          "transform": [{"filter": "datum.name === 'RSI'"}],
          "mark": {"type": "rect", "fill": "#9b27f0", "opacity": 0.1},
          "encoding": {
            "y": {"datum": 70, "type": "quantitative"},
            "y2": {"datum": 30}
          }
        },
        {
          "data": {"name": "tags"},
          "transform": [{"filter": "datum.name === 'RSI'"}],
          "mark": {"type": "rule", "color": "#b3a9bb", "strokeDash": [5, 4], "strokeWidth": 1},
          "encoding": {"y": {"datum": 70, "type": "quantitative"}}
        },
        {
          "data": {"name": "tags"},
          "transform": [{"filter": "datum.name === 'RSI'"}],
          "mark": {"type": "rule", "color": "#b3a9bb", "strokeDash": [5, 4], "strokeWidth": 1},
          "encoding": {"y": {"datum": 30, "type": "quantitative"}}
        },
        {
          "data": {"name": "tags"},
          "transform": [{"filter": "datum.name === 'RSI'"}],
          "mark": {"type": "bar", "height": 15, "color": "#8e1599"},
          "encoding": {
            "x": {"datum": 218.1}, "x2": {"datum": 221.25},
            "y": {"field": "value", "type": "quantitative"}
          }
        },
        {
          "data": {"name": "tags"},
          "transform": [{"filter": "datum.name === 'RSI'"}],
          "mark": {"type": "bar", "height": 15, "color": "#8e1599"},
          "encoding": {
            "x": {"datum": 221.6}, "x2": {"datum": 227.66},
            "y": {"field": "value", "type": "quantitative"}
          }
        },
        {
          "data": {"name": "tags"},
          "transform": [{"filter": "datum.name === 'RSI'"}],
          "mark": {"type": "text", "align": "right", "baseline": "middle", "dx": -3, "color": "white", "fontSize": 10.5, "fontWeight": "bold", "font": "Roboto"},
          "encoding": {
            "x": {"datum": 221.25},
            "y": {"field": "value", "type": "quantitative"},
            "text": {"field": "name"}
          }
        },
        {
          "data": {"name": "tags"},
          "transform": [{"filter": "datum.name === 'RSI'"}],
          "mark": {"type": "text", "align": "center", "baseline": "middle", "color": "white", "fontSize": 10.5, "fontWeight": "bold", "font": "Roboto"},
          "encoding": {
            "x": {"datum": 224.63},
            "y": {"field": "value", "type": "quantitative"},
            "text": {"field": "value", "format": ".2f"}
          }
        }
      ]
    }
  ],
  "config": {
    "view": {"stroke": "#8f8f8f", "strokeWidth": 1},
    "axis": {
      "gridColor": "#e8e8e8", "gridWidth": 1,
      "labelFont": "Roboto", "labelFontSize": 10.5, "labelColor": "#4a4a4a",
      "tickColor": "#5c5c5c", "tickSize": 4, "labelPadding": 4, "domain": false
    },
    "axisRight": {"labelOverlap": false}
  }
}
